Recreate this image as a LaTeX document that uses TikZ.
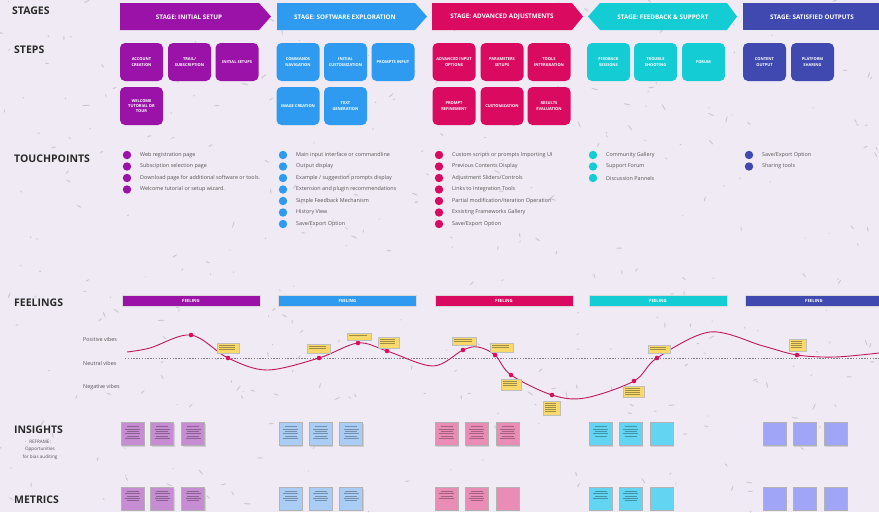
\documentclass[tikz,border=0pt]{standalone}
\usepackage{fontspec}
\setmainfont{Open Sans}
\definecolor{bgc}{HTML}{EFEAF4}
\definecolor{cA}{HTML}{9A12A8}
\definecolor{cB}{HTML}{2E9BF0}
\definecolor{cC}{HTML}{DB0A61}
\definecolor{cD}{HTML}{14CCD4}
\definecolor{cE}{HTML}{3F49B0}
\definecolor{nA}{HTML}{C68DD2}
\definecolor{nB}{HTML}{A9CDF4}
\definecolor{nC}{HTML}{EA8DB6}
\definecolor{nD}{HTML}{62D5F3}
\definecolor{nE}{HTML}{A0A5F8}
\definecolor{noteY}{HTML}{F8D96A}
\definecolor{curveC}{HTML}{BF1A5C}
\definecolor{dotC}{HTML}{D90F5E}
\definecolor{hdrC}{HTML}{2A2A2A}
\definecolor{txtC}{HTML}{555555}
\newcommand\sqnote[4]{%
  \fill[black,opacity=0.12] (#1-10.5,#2-10) rectangle (#1+12.5,#2+12.5);
  \filldraw[fill=#3,draw=black!30,line width=0.4pt] (#1-11.5,#2-11.5) rectangle (#1+11.5,#2+11.5);
  \ifnum#4>0 \foreach \k in {1,...,#4}{\pgfmathsetmacro\hw{mod(\k,2)==0 ? 7.5 : 6}\draw[black,opacity=0.3,line width=0.25pt] (#1-\hw,#2-10+\k*2.4) -- (#1+\hw,#2-10+\k*2.4);}\fi
}
\newcommand\yelnote[5]{%
  \filldraw[fill=noteY,draw=black!25,line width=0.3pt] (#1,#2) rectangle (#3,#4);
  \foreach \k in {1,...,#5}{\draw[black,opacity=0.35,line width=0.2pt] (#1+2,#2+\k*2) -- (#3-4,#2+\k*2);}
}
\begin{document}
\begin{tikzpicture}[x=1pt,y=-1pt,
  hdr/.style={anchor=west,text=hdrC,font=\bfseries\fontsize{10.5}{12}\selectfont,inner sep=0pt},
  stagelbl/.style={text=white,font=\bfseries\fontsize{6.3}{7}\selectfont,inner sep=0pt},
  stepbox/.style={rounded corners=5pt,minimum width=43pt,minimum height=38pt,text=white,
     font=\bfseries\fontsize{4}{5.2}\selectfont,align=center,inner sep=1pt},
  tpdot/.style={circle,minimum size=8.4pt,inner sep=0pt},
  tp/.style={anchor=west,text=txtC,font=\fontsize{5.4}{6.5}\selectfont,inner sep=0pt},
  feelbar/.style={minimum width=138pt,minimum height=11pt,inner sep=0pt,draw=white!70!gray,line width=0.3pt,
     text=white,font=\bfseries\fontsize{4.3}{5}\selectfont},
  vibe/.style={anchor=west,text=txtC,font=\fontsize{5.4}{6.5}\selectfont,inner sep=0pt},
  cdot/.style={circle,fill=dotC,minimum size=4.6pt,inner sep=0pt}
]
\fill[bgc] (0,0) rectangle (879,512);
\useasboundingbox (0,0) rectangle (879,512);
% speckles
\pgfmathsetseed{11}
\foreach \i in {1,...,360}{
  \pgfmathsetmacro\sx{rnd*879}
  \pgfmathsetmacro\sy{rnd*512}
  \pgfmathsetmacro\sa{rnd*180}
  \pgfmathsetmacro\sl{0.6+rnd*3}
  \fill[gray,opacity=0.32,rotate around={\sa:(\sx,\sy)}] (\sx,\sy) ellipse [x radius=\sl pt,y radius=0.55pt];
}
% row headers
\node[hdr] (hStages) at (12,11) {STAGES};
\node[hdr] (hSteps) at (14,50) {STEPS};
\node[hdr] (hTouch) at (14,159) {TOUCHPOINTS};
\node[hdr] (hFeel) at (14,303) {FEELINGS};
\node[hdr] (hIns) at (14,430) {INSIGHTS};
\node[text=txtC,font=\fontsize{4.6}{7.5}\selectfont,align=center,inner sep=0pt] (hRef) at (40,449.5) {REFRAME:\\Opportunities\\for bias auditing};
\node[hdr] (hMet) at (14,500) {METRICS};
% stages
\fill[cA] (120,3) -- (259,3) -- (271,16.5) -- (259,30) -- (120,30) -- cycle;
\node[stagelbl] (st1) at (189,17) {STAGE: INITIAL SETUP};
\fill[cB] (277,3) -- (415,3) -- (427,16.5) -- (415,30) -- (277,30) -- cycle;
\node[stagelbl] (st2) at (345,17) {STAGE: SOFTWARE EXPLORATION};
\fill[cC] (432,3) -- (572,3) -- (583,16.5) -- (572,30) -- (432,30) -- cycle;
\node[stagelbl] (st3) at (502,17) {STAGE: ADVANCED ADJUSTMENTS};
\fill[cD] (588,16.5) -- (600,3) -- (727,3) -- (737,16.5) -- (727,30) -- (600,30) -- cycle;
\node[stagelbl] (st4) at (663,17) {STAGE: FEEDBACK \& SUPPORT};
\fill[cE] (743,3) -- (879,3) -- (879,30) -- (743,30) -- cycle;
\node[stagelbl] (st5) at (812,17) {STAGE: SATISFIED OUTPUTS};
% steps
\node[stepbox,fill=cA] (a1) at (141.5,62) {ACCOUNT\\CREATION};
\node[stepbox,fill=cA] (a2) at (189.5,62) {TRAIL/\\SUBSCRIPTION};
\node[stepbox,fill=cA] (a3) at (237,62) {INITIAL SETUPS};
\node[stepbox,fill=cA] (a4) at (141.5,106) {WELCOME\\TUTORIAL OR\\TOUR};
\node[stepbox,fill=cB] (b1) at (298,62) {COMMANDS\\NAVIGATION};
\node[stepbox,fill=cB] (b2) at (345.5,62) {INITIAL\\CUSTOMIZATION};
\node[stepbox,fill=cB] (b3) at (393,62) {PROMPTS INPUT};
\node[stepbox,fill=cB] (b4) at (298,106) {IMAGE CREATION};
\node[stepbox,fill=cB] (b5) at (345.5,106) {TEXT\\GENERATION};
\node[stepbox,fill=cC] (c1) at (454,62) {ADVANCED INPUT\\OPTIONS};
\node[stepbox,fill=cC] (c2) at (502,62) {PARAMETERS\\SETUPS};
\node[stepbox,fill=cC] (c3) at (549,62) {TOOLS\\INTERGRATION};
\node[stepbox,fill=cC] (c4) at (454,106) {PROMPT\\REFINEMENT};
\node[stepbox,fill=cC] (c5) at (502,106) {CUSTOMIZATION};
\node[stepbox,fill=cC] (c6) at (549,106) {RESULTS\\EVALUATION};
\node[stepbox,fill=cD] (d1) at (608.5,62) {FEEDBACK\\SESSIONS};
\node[stepbox,fill=cD] (d2) at (655.5,62) {TROUBLE\\SHOOTING};
\node[stepbox,fill=cD] (d3) at (703.5,62) {FORUM};
\node[stepbox,fill=cE] (e1) at (764.5,62) {CONTENT\\OUTPUT};
\node[stepbox,fill=cE] (e2) at (812.5,62) {PLATFORM\\SHARING};
% touchpoints
\foreach \t [count=\j] in {Web registration page,Subsciption selection page,Download page for additional software or tools.,Welcome tutorial or setup wizard.}{
  \node[tpdot,fill=cA] (pa\j) at (127,143.5+\j*11.5) {};
  \node[tp] (ta\j) at (140,143.5+\j*11.5) {\t};
}
\foreach \t [count=\j] in {Main input interface or commandline,Output display,Example / suggestion prompts display,Extension and plugin recommendations,Simple Feedback Mechanism,History View,Save/Export Option}{
  \node[tpdot,fill=cB] (pb\j) at (283,143.5+\j*11.5) {};
  \node[tp] (tb\j) at (296,143.5+\j*11.5) {\t};
}
\foreach \t [count=\j] in {Custom scripts or prompts Importing UI,Previous Contents Display,Adjustment Sliders/Controls,Links to Integration Tools,Partial modification/iteration Operation,Exsisting Frameworks Gallery,Save/Export Option}{
  \node[tpdot,fill=cC] (pc\j) at (439,143.5+\j*11.5) {};
  \node[tp] (tc\j) at (452,143.5+\j*11.5) {\t};
}
\foreach \t [count=\j] in {Community Gallery,Support Forum,Discussion Pannels}{
  \node[tpdot,fill=cD] (pd\j) at (593,143.5+\j*11.5) {};
  \node[tp] (td\j) at (606,143.5+\j*11.5) {\t};
}
\foreach \t [count=\j] in {Save/Export Option,Sharing tools}{
  \node[tpdot,fill=cE] (pe\j) at (749,143.5+\j*11.5) {};
  \node[tp] (te\j) at (762,143.5+\j*11.5) {\t};
}
% feelings bars
\node[feelbar,fill=cA] (f1) at (191,300.5) {FEELING};
\node[feelbar,fill=cB] (f2) at (347.5,300.5) {FEELING};
\node[feelbar,fill=cC] (f3) at (504,300.5) {FEELING};
\node[feelbar,fill=cD] (f4) at (658,300.5) {FEELING};
\node[feelbar,fill=cE] (f5) at (814,300.5) {FEELING};
\node[vibe] (vPos) at (83,339) {Positive vibes};
\node[vibe] (vNeu) at (83,363) {Neutral vibes};
\node[vibe] (vNeg) at (83,387) {Negative vibes};
\coordinate (nl0) at (125,358);
\coordinate (nl1) at (879,358);
\draw[gray,line width=0.6pt,dash pattern=on 1.4pt off 1.4pt] (nl0) -- (nl1);
\draw[curveC,line width=0.9pt] plot[smooth,tension=0.55] coordinates {
 (127,352) (150,348) (191,335) (228,358) (267,370) (319,358) (358,343) (387,351) (433,366)
 (463,350) (478,347) (495,355) (511,375) (552,395) (585,398) (634,381) (657,358) (710,332)
 (763,346) (797,355) (835,357) (879,353)};
\foreach \p [count=\j] in {(191,335),(228,358),(319,358),(358,343),(387,351),(463,350),(495,355),(511,375),(552,395),(634,381),(657,358),(797,355)}{
  \node[cdot] (cd\j) at \p {};
}
% yellow notes on curve
\yelnote{217}{343}{239}{353}{3}
\yelnote{307}{344}{330}{353}{2}
\yelnote{347}{333}{371}{340}{1}
\yelnote{378}{337}{399}{348}{3}
\yelnote{452}{337}{476}{345}{2}
\yelnote{490}{343}{513}{352}{2}
\yelnote{501}{379}{521}{390}{3}
\yelnote{543}{401}{560}{415}{5}
\yelnote{623}{386}{644}{397}{4}
\yelnote{648}{345}{670}{353}{2}
\yelnote{789}{339}{806}{351}{4}
% insights
\sqnote{132.5}{434}{nA}{6}\sqnote{162}{434}{nA}{6}\sqnote{193}{434}{nA}{6}
\sqnote{290.5}{434}{nB}{6}\sqnote{320.5}{434}{nB}{6}\sqnote{351}{434}{nB}{6}
\sqnote{446.5}{434}{nC}{6}\sqnote{476.5}{434}{nC}{6}\sqnote{507.5}{434}{nC}{6}
\sqnote{600.5}{434}{nD}{5}\sqnote{630.5}{434}{nD}{5}\sqnote{661.5}{434}{nD}{0}
\sqnote{774.5}{434}{nE}{0}\sqnote{804.5}{434}{nE}{0}\sqnote{835.5}{434}{nE}{0}
% metrics
\sqnote{132.5}{498.5}{nA}{5}\sqnote{162}{498.5}{nA}{5}\sqnote{193}{498.5}{nA}{5}
\sqnote{290.5}{498.5}{nB}{5}\sqnote{320.5}{498.5}{nB}{5}\sqnote{351}{498.5}{nB}{5}
\sqnote{446.5}{498.5}{nC}{4}\sqnote{476.5}{498.5}{nC}{5}\sqnote{507.5}{498.5}{nC}{0}
\sqnote{600.5}{498.5}{nD}{4}\sqnote{630.5}{498.5}{nD}{5}\sqnote{661.5}{498.5}{nD}{0}
\sqnote{774.5}{498.5}{nE}{0}\sqnote{804.5}{498.5}{nE}{0}\sqnote{835.5}{498.5}{nE}{0}
\end{tikzpicture}
\end{document}
